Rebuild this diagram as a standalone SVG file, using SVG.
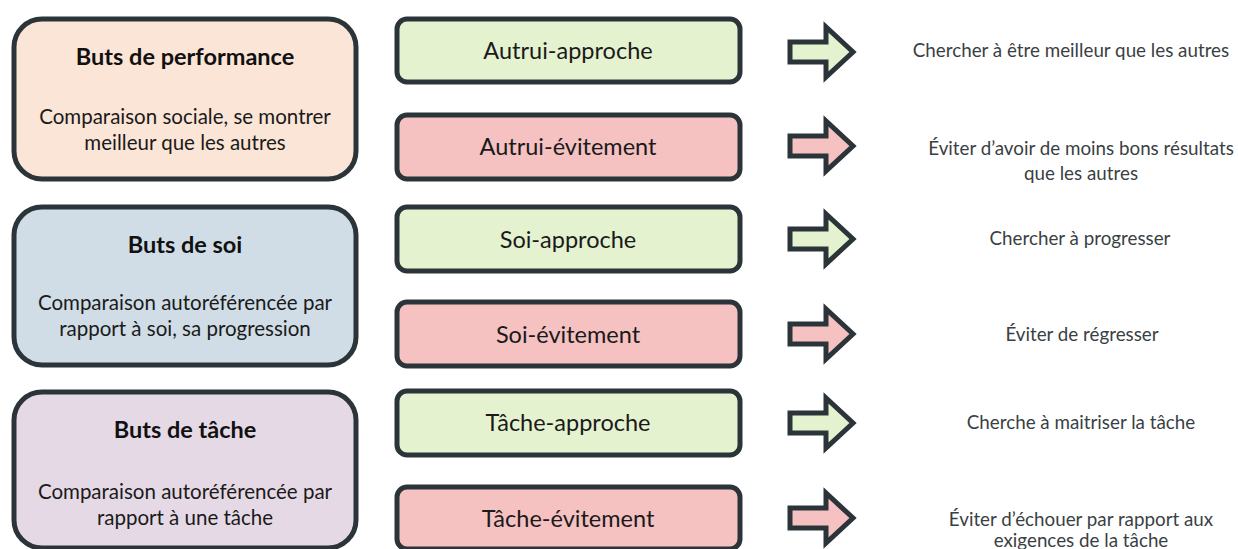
<svg xmlns="http://www.w3.org/2000/svg" width="1238" height="549" viewBox="0 0 1238 549">
  <style>
    .cat { stroke: #2b3439; stroke-width: 5; }
    .goal { stroke: #2b3439; stroke-width: 5; }
    .arrow { stroke: #2b3439; stroke-width: 5; stroke-linejoin: miter; }
    .approach { fill: #e4f2cf; }
    .avoid { fill: #f5c1c1; }
    .title { font-family: Lato, "Open Sans", sans-serif; font-weight: bold; font-size: 23.5px; fill: #111; text-anchor: middle; }
    .desc { font-family: Lato, "Open Sans", sans-serif; font-size: 20.5px; fill: #1a1a1a; text-anchor: middle; }
    .label { font-family: Lato, "Open Sans", sans-serif; font-size: 23.5px; fill: #1a1a1a; text-anchor: middle; }
    .result { font-family: Lato, "Open Sans", sans-serif; font-size: 18.8px; fill: #3a3f44; text-anchor: middle; }
  </style>
  <defs>
    <path id="arr" d="M790,-10 L826,-10 L826,-25 L853,0 L826,25 L826,10 L790,10 Z"/>
  </defs>
  <rect width="1238" height="549" fill="#ffffff"/>

  <!-- Goal categories -->
  <g id="cat-performance">
    <rect class="cat" x="14" y="19" width="342" height="160" rx="28" fill="#fbe5d7"/>
    <text class="title" x="185" y="65">Buts de performance</text>
    <text class="desc" x="185" y="124">Comparaison sociale, se montrer</text>
    <text class="desc" x="185" y="150">meilleur que les autres</text>
  </g>
  <g id="cat-soi">
    <rect class="cat" x="14" y="207" width="342" height="158" rx="28" fill="#d0dde6"/>
    <text class="title" x="185" y="253">Buts de soi</text>
    <text class="desc" x="185" y="310">Comparaison autoréférencée par</text>
    <text class="desc" x="185" y="336">rapport à soi, sa progression</text>
  </g>
  <g id="cat-tache">
    <rect class="cat" x="14" y="392" width="342" height="156" rx="28" fill="#e6d9e6"/>
    <text class="title" x="185" y="438">Buts de tâche</text>
    <text class="desc" x="185" y="499">Comparaison autoréférencée par</text>
    <text class="desc" x="185" y="525">rapport à une tâche</text>
  </g>

  <!-- Goal orientations -->
  <g id="autrui-approche">
    <rect class="goal approach" x="397" y="19" width="343" height="63" rx="10"/>
    <text class="label" x="568" y="59">Autrui-approche</text>
  </g>
  <g id="autrui-evitement">
    <rect class="goal avoid" x="397" y="115" width="343" height="64" rx="10"/>
    <text class="label" x="568" y="155">Autrui-évitement</text>
  </g>
  <g id="soi-approche">
    <rect class="goal approach" x="397" y="207" width="343" height="64" rx="10"/>
    <text class="label" x="568" y="248">Soi-approche</text>
  </g>
  <g id="soi-evitement">
    <rect class="goal avoid" x="397" y="302" width="343" height="64" rx="10"/>
    <text class="label" x="568" y="343">Soi-évitement</text>
  </g>
  <g id="tache-approche">
    <rect class="goal approach" x="397" y="391" width="343" height="64" rx="10"/>
    <text class="label" x="568" y="431">Tâche-approche</text>
  </g>
  <g id="tache-evitement">
    <rect class="goal avoid" x="397" y="487" width="343" height="62" rx="10"/>
    <text class="label" x="568" y="527">Tâche-évitement</text>
  </g>

  <!-- Arrows -->
  <g id="connectors">
    <use href="#arr" class="arrow approach" transform="translate(0,52)"/>
    <use href="#arr" class="arrow avoid" transform="translate(0,146)"/>
    <use href="#arr" class="arrow approach" transform="translate(0,239)"/>
    <use href="#arr" class="arrow avoid" transform="translate(0,334)"/>
    <use href="#arr" class="arrow approach" transform="translate(0,423)"/>
    <use href="#arr" class="arrow avoid" transform="translate(0,518)"/>
  </g>

  <!-- Outcomes -->
  <g id="res-autrui-approche">
    <text class="result" x="1071" y="57">Chercher à être meilleur que les autres</text>
  </g>
  <g id="res-autrui-evitement">
    <text class="result" x="1081" y="155">Éviter d’avoir de moins bons résultats</text>
    <text class="result" x="1081" y="180">que les autres</text>
  </g>
  <g id="res-soi-approche">
    <text class="result" x="1080" y="245">Chercher à progresser</text>
  </g>
  <g id="res-soi-evitement">
    <text class="result" x="1082" y="341">Éviter de régresser</text>
  </g>
  <g id="res-tache-approche">
    <text class="result" x="1081" y="429">Cherche à maitriser la tâche</text>
  </g>
  <g id="res-tache-evitement">
    <text class="result" x="1081" y="526">Éviter d’échouer par rapport aux</text>
    <text class="result" x="1081" y="547">exigences de la tâche</text>
  </g>
</svg>
